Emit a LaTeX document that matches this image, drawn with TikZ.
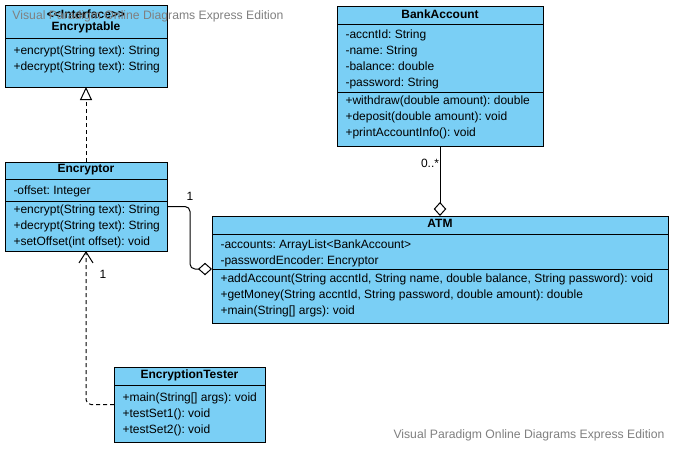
\documentclass[tikz,border=0pt]{standalone}
\usepackage{fontspec}
\setmainfont{Liberation Sans}
\usetikzlibrary{arrows.meta}
\definecolor{classblue}{RGB}{122,207,245}
\definecolor{markgray}{RGB}{128,128,128}
\frenchspacing

\begin{document}
\begin{tikzpicture}[x=1pt,y=-1pt,line width=1pt,
                    part/.style={draw,fill=classblue,anchor=north west,inner sep=0pt,outer sep=0pt},
                    title/.style={inner sep=0pt,font=\fontsize{12}{14}\selectfont\bfseries},
                    member/.style={anchor=north west,inner sep=0pt,align=left,font=\fontsize{12}{16}\selectfont},
                    mult/.style={inner sep=0pt,font=\fontsize{12}{14}\selectfont},
                    watermark/.style={anchor=west,inner sep=0pt,text=markgray,font=\fontsize{12.2}{14}\selectfont},
                    aggr/.style={-{Diamond[open,length=14pt,width=12.5pt]}},
                    realize/.style={dash pattern=on 4pt off 3pt,-{Triangle[open,length=13pt,width=12pt]}},
                    depend/.style={dash pattern=on 4pt off 3pt,-{Straight Barb[length=11pt,width=14pt]}}]
    \useasboundingbox (0,0) rectangle (676,450);
    \fill[white] (0,0) rectangle (676,450);

    % Encryptable
    \node[part, minimum width=162pt, minimum height=33pt] (encryptable) at (5,5) {};
    \node[part, minimum width=162pt, minimum height=49pt] (encryptable ops) at (encryptable.south west) {};
    \node[title] (encryptable stereo) at (86,14) {{<}{<}Interface{>}{>}};
    \node[title] (encryptable name) at (86,27) {Encryptable};
    \node[member] (encryptable opstext) at (13,45.3) {+encrypt(String text): String\\+decrypt(String text): String};

    % BankAccount
    \node[part, minimum width=206pt, minimum height=18pt] (bank) at (337,6) {};
    \node[part, minimum width=206pt, minimum height=68pt] (bank attr) at (bank.south west) {};
    \node[part, minimum width=206pt, minimum height=54pt] (bank ops) at (bank attr.south west) {};
    \node[title] (bank name) at (440,14) {BankAccount};
    \node[member] (bank attrtext) at (345,28.9) {-accntId: String\\-name: String\\-balance: double\\-password: String};
    \node[member] (bank opstext) at (345,94.9) {+withdraw(double amount): double\\+deposit(double amount): void\\+printAccountInfo(): void};

    % Encryptor
    \node[part, minimum width=162pt, minimum height=17pt] (encryptor) at (5,162) {};
    \node[part, minimum width=162pt, minimum height=22pt] (encryptor attr) at (encryptor.south west) {};
    \node[part, minimum width=162pt, minimum height=50pt] (encryptor ops) at (encryptor attr.south west) {};
    \node[title] (encryptor name) at (86,170) {Encryptor};
    \node[member] (encryptor attrtext) at (13,185.6) {-offset: Integer};
    \node[member] (encryptor opstext) at (13,203.9) {+encrypt(String text): String\\+decrypt(String text): String\\+setOffset(int offset): void};

    % ATM
    \node[part, minimum width=456pt, minimum height=18pt] (atm) at (212,216) {};
    \node[part, minimum width=456pt, minimum height=35pt] (atm attr) at (atm.south west) {};
    \node[part, minimum width=456pt, minimum height=54pt] (atm ops) at (atm attr.south west) {};
    \node[title] (atm name) at (440,223.3) {ATM};
    \node[member] (atm attrtext) at (220,239.6) {-accounts: ArrayList<BankAccount>\\-passwordEncoder: Encryptor};
    \node[member] (atm opstext) at (220,273.3) {+addAccount(String accntId, String name, double balance, String password): void\\+getMoney(String accntId, String password, double amount): double\\+main(String[] args): void};

    % EncryptionTester
    \node[part, minimum width=151pt, minimum height=18pt] (tester) at (114,367) {};
    \node[part, minimum width=151pt, minimum height=57pt] (tester ops) at (tester.south west) {};
    \node[title] (tester name) at (189.5,375) {EncryptionTester};
    \node[member] (tester opstext) at (122,392.3) {+main(String[] args): void\\+testSet1(): void\\+testSet2(): void};

    % connectors
    \draw[realize] (encryptor.north) -- (encryptable ops.south);
    \draw[aggr] (bank ops.south) -- (atm.north);
    \draw[aggr, rounded corners=5pt] ([yshift=-5.5pt]encryptor ops.north east) -- ++(23,0) |- (atm ops.north west);
    \draw[depend, rounded corners=5pt] ([yshift=9pt]tester ops.west) -| (encryptor ops.south);

    \node[mult] (mult bank) at (430,163) {0..*};
    \node[mult] (mult encryptor) at (190,196) {1};
    \node[mult] (mult tester) at (103,274.5) {1};

    % watermarks
    \node[watermark] (mark top) at (12,16.5) {Visual Paradigm Online Diagrams Express Edition};
    \node[watermark] (mark bottom) at (393,435) {Visual Paradigm Online Diagrams Express Edition};
\end{tikzpicture}
\end{document}
